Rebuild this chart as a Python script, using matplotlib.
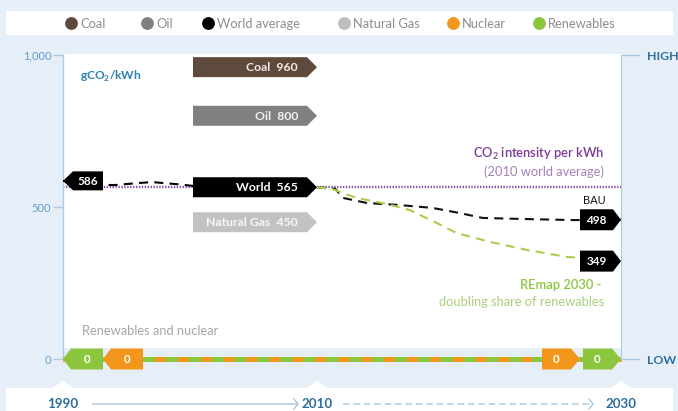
import numpy as np
import matplotlib
matplotlib.use('Agg')
import matplotlib.pyplot as plt
from matplotlib.patches import Polygon, Rectangle
from matplotlib.lines import Line2D
from matplotlib.transforms import Affine2D, ScaledTranslation, blended_transform_factory

plt.rcParams['font.family'] = ['Lato', 'DejaVu Sans']
plt.rcParams['lines.scale_dashes'] = False

# ---------------- data ----------------
legend_labels = ['Coal', 'Oil', 'World average', 'Natural Gas', 'Nuclear', 'Renewables']
legend_colors = ['#5d4a3c', '#808080', '#000000', '#bdbdbd', '#f3961c', '#8cc63f']

source_names = ['Coal', 'Oil', 'World', 'Natural Gas']
source_values = [960, 800, 565, 450]
source_colors = ['#5d4a3c', '#808080', '#000000', '#c2c2c2']
source_text_colors = ['#f3ece6', '#f2f2f2', '#ffffff', '#f7f7f7']

hist_years = [1990, 1992, 1994, 1996, 1997, 1999, 2001, 2005, 2010]
hist_values = [586, 575, 572, 579, 582, 575, 566, 566, 565]
hist_label = '586'

bau_years = [2010, 2011.2, 2011.7, 2013.3, 2015.3, 2017.6, 2019.4, 2020.9, 2023.2, 2026.8, 2030]
bau_values = [565, 560, 530, 513, 507, 497, 480, 464, 461, 457, 458]
bau_label = '498'

remap_years = [2010, 2011, 2012.6, 2014.6, 2016.1, 2017.9, 2019.2, 2021.4, 2023.8, 2026.4, 2030]
remap_values = [565, 559, 530, 510, 490, 447, 414, 385, 359, 336, 322]
remap_label = '349'

rn_years = [1990, 2010, 2030]
rn_values = [0, 0, 0]
rn_start_labels = ['0', '0']   # renewables, nuclear at 1990
rn_end_labels = ['0', '0']     # nuclear, renewables at 2030

ref_value = 565
y_ticks = [0, 500, 1000]
y_ticklabels = ['0', '500', '1,000']
right_ticklabels = ['LOW', 'HIGH']
axis_years = [1990, 2010, 2030]

# ---------------- colours ----------------
BG = '#e6eff8'
AXBLUE = '#a9cbe4'
TICKBLUE = '#5f9fcc'
DARKBLUE = '#2c6e9e'
PURPLE = '#8a4fa6'
GREEN = '#8cc63f'
LGREEN = '#a9cd4c'
ORANGE = '#f3961c'

W, H = 678, 411
fig = plt.figure(figsize=(W / 100, H / 100), dpi=100, facecolor=BG)

# px helpers for layout
def fx(px):
    return px / W

def fy(py):
    return 1 - py / H

# axes: x 63..621 px, y 40..380 px ; 0 at py 359, 1000 at py 55
px_per_unit = (359 - 55) / 1000.0
ax = fig.add_axes([fx(63), fy(380), fx(621) - fx(63), fy(40) - fy(380)])
ax.set_facecolor('none')

split = (317 - 63) / (621 - 63)


def fwd(x):
    x = np.asarray(x, dtype=float)
    return np.where(x <= 2010, (x - 1990) / 20 * split, split + (x - 2010) / 20 * (1 - split))


def inv(u):
    u = np.asarray(u, dtype=float)
    return np.where(u <= split, 1990 + u / split * 20, 2010 + (u - split) / (1 - split) * 20)


ax.set_xscale('function', functions=(fwd, inv))
ax.set_xlim(1990, 2030)
ax.set_ylim(-(380 - 359) / px_per_unit, (359 - 40) / px_per_unit)

# legend band
fig.add_artist(Rectangle((fx(6), fy(35)), fx(673) - fx(6), fy(11) - fy(35),
                         transform=fig.transFigure, facecolor='white', edgecolor='none', zorder=0))
leg_x = [71, 147, 208, 344, 453, 539]
for lab, col, x in zip(legend_labels, legend_colors, leg_x):
    fig.add_artist(Line2D([fx(x)], [fy(23.5)], marker='o', markersize=8.2, color=col,
                          transform=fig.transFigure, linestyle='none'))
    fig.text(fx(x + 9), fy(23.5), lab, color='#8d8d8d', fontsize=9.3, va='center', ha='left')

# bottom white strip with notches
fig.add_artist(Rectangle((fx(6), 0), fx(673) - fx(6), fy(388), transform=fig.transFigure,
                         facecolor='white', edgecolor='none', zorder=0))
blend = blended_transform_factory(ax.transData, fig.transFigure)


def off(x, y, base):
    return Affine2D() + ScaledTranslation(x, y, base)


for yr in axis_years:
    fig.add_artist(Polygon([(-11, 0), (0, 8), (11, 0)], closed=True, facecolor='white', edgecolor='none',
                           transform=off(yr, fy(388.5), blend), zorder=0))

# plot white area
ax.add_patch(Rectangle((1990, (359 - 348) / px_per_unit), 40, 1000 + (55 - 54) / px_per_unit - (359 - 348) / px_per_unit,
                       facecolor='white', edgecolor='none', zorder=0))


# tag helper
def tag(x, y, label, color, direction='right', w=124, h=20, tip=9, dx=0, tcolor='white',
        fs=8.5, align='center', tpad=19, z=6, weight='bold'):
    if direction == 'right':
        verts = [(dx, 0), (dx - tip, h / 2), (dx - w, h / 2), (dx - w, -h / 2), (dx - tip, -h / 2)]
    else:
        verts = [(dx, 0), (dx + tip, h / 2), (dx + w, h / 2), (dx + w, -h / 2), (dx + tip, -h / 2)]
    p = Polygon(verts, closed=True, facecolor=color, edgecolor='none', transform=off(x, y, ax.transData),
                zorder=z, clip_on=False)
    ax.add_artist(p)
    if align == 'right':
        tx, ha = dx - tpad, 'right'
    else:
        if direction == 'right':
            tx = dx - (w + tip) / 2
        else:
            tx = dx + (w + tip) / 2
        ha = 'center'
    ax.annotate(label, xy=(x, y), xytext=(tx, -0.5), textcoords='offset pixels', ha=ha, va='center',
                color=tcolor, fontsize=fs, fontweight=weight, zorder=z + 1, annotation_clip=False)


# reference line
ax.plot([1990, 2030], [ref_value, ref_value], color=PURPLE, lw=1.7, dashes=(1.0, 1.1), zorder=2)

# lines
ax.plot(hist_years, hist_values, color='black', lw=1.5, dashes=(6.5, 4.5), zorder=3)
ax.plot(bau_years, bau_values, color='#111111', lw=1.5, dashes=(6.5, 4.5), zorder=3)
ax.plot(remap_years, remap_values, color=LGREEN, lw=1.5, dashes=(6.5, 4.5), zorder=3)

# renewables + nuclear zero line
ax.plot(rn_years, rn_values, color=GREEN, lw=3.6, solid_capstyle='butt', zorder=3, clip_on=False)
ax.plot(rn_years, rn_values, color=ORANGE, lw=3.6, dashes=(7.5, 9.0), dash_capstyle='butt', zorder=3,
        clip_on=False)

# source tags
for name, val, col, tcol in zip(source_names, source_values, source_colors, source_text_colors):
    tag(2010, val, f'{name}  {val}', col, w=124, h=20, tip=10, align='right', tpad=19, tcolor=tcol, fs=8.8)

# end tags
tag(hist_years[0], hist_values[0], hist_label, 'black', direction='left', w=40, h=19, tip=10, fs=8.5)
tag(bau_years[-1], bau_values[-1], bau_label, 'black', direction='right', w=41, h=21, tip=8, fs=8.5)
tag(remap_years[-1], remap_values[-1], remap_label, 'black', direction='right', w=41, h=21, tip=8, fs=8.5)

# zero tags
tag(rn_years[0], rn_values[0], rn_start_labels[0], GREEN, direction='left', w=40, h=21, tip=8, fs=8.3)
tag(rn_years[0], rn_values[0], rn_start_labels[1], ORANGE, direction='left', w=40, h=21, tip=8, dx=40, fs=8.3)
tag(rn_years[-1], rn_values[-1], rn_end_labels[0], ORANGE, direction='right', w=38, h=21, tip=9, dx=-41, fs=8.3)
tag(rn_years[-1], rn_values[-1], rn_end_labels[1], GREEN, direction='right', w=38, h=21, tip=9, fs=8.3)

# texts
tx = blended_transform_factory(ax.transData, ax.transData)
ax.text(1991.3, 930, r'gCO$_\mathregular{2}$/kWh', color='#2b7fb6', fontsize=8.6, fontweight='bold',
        ha='left', va='center')
ax.text(2028.9, 676, r'CO$_\mathregular{2}$ intensity per kWh', color='#7b3a95', fontsize=9.3,
        ha='right', va='center', fontweight='semibold')
ax.text(2028.9, 617, '(2010 world average)', color='#a47fbb', fontsize=9.3, ha='right', va='center')
ax.text(2027.5, 520, 'BAU', color='#111111', fontsize=8, ha='left', va='center')
ax.text(2028.7, 245, 'REmap 2030 -', color='#8cc63f', fontsize=9.3, ha='right', va='center',
        fontweight='semibold')
ax.text(2028.9, 186, 'doubling share of renewables', color='#a9cf7c', fontsize=9.3, ha='right', va='center')
ax.text(1991.5, 92, 'Renewables and nuclear', color='#a6a6a6', fontsize=9.3, ha='left', va='center')

# axes / spines
for s in ['top', 'bottom', 'right']:
    ax.spines[s].set_visible(False)
ax.spines['left'].set_bounds(0, 1000)
ax.spines['left'].set_color(AXBLUE)
ax.spines['left'].set_linewidth(1.0)
ax.set_xticks([])
ax.set_yticks(y_ticks)
ax.set_yticklabels(y_ticklabels)
ax.tick_params(axis='y', colors=AXBLUE, length=7, width=1.0, pad=1.5, labelcolor=TICKBLUE, labelsize=8)
ax.minorticks_off()
ax.xaxis.set_minor_locator(matplotlib.ticker.NullLocator())

ax2 = ax.twinx()
ax2.set_ylim(ax.get_ylim())
for s in ['top', 'bottom', 'left']:
    ax2.spines[s].set_visible(False)
ax2.spines['right'].set_bounds(0, 1000)
ax2.spines['right'].set_color(AXBLUE)
ax2.set_yticks(y_ticks[::2])
ax2.set_yticklabels(right_ticklabels, fontweight='bold')
ax2.tick_params(axis='y', colors=AXBLUE, length=14, width=1.0, pad=5, labelcolor=DARKBLUE, labelsize=8.8)
ax2.set_xticks([])
ax2.xaxis.set_minor_locator(matplotlib.ticker.NullLocator())

# bottom year axis
for yr in axis_years:
    ax.text(yr, fy(403.5), str(yr), transform=blend, ha='center', va='center', color=DARKBLUE,
            fontsize=9.6, fontweight='bold')
ax.annotate('', xy=(axis_years[1], fy(404)), xytext=(axis_years[0], fy(404)), xycoords=blend,
            arrowprops=dict(arrowstyle='-', color='#a6c6df', lw=1.0, shrinkA=21, shrinkB=14),
            annotation_clip=False)
ax.annotate('', xy=(axis_years[2], fy(404)), xytext=(axis_years[1], fy(404)), xycoords=blend,
            arrowprops=dict(arrowstyle='-', color='#a6c6df', lw=1.0, linestyle=(0, (4, 3.5)),
                            shrinkA=19, shrinkB=23),
            annotation_clip=False)
for yr, dxp in [(axis_years[1], -19), (axis_years[2], -28)]:
    fig.add_artist(Line2D([dxp - 4, dxp, dxp - 4], [5, 0, -5], color='#a6c6df', lw=1.0,
                          transform=off(yr, fy(404), blend)))

fig.savefig('out.png', dpi=100, facecolor=BG)
